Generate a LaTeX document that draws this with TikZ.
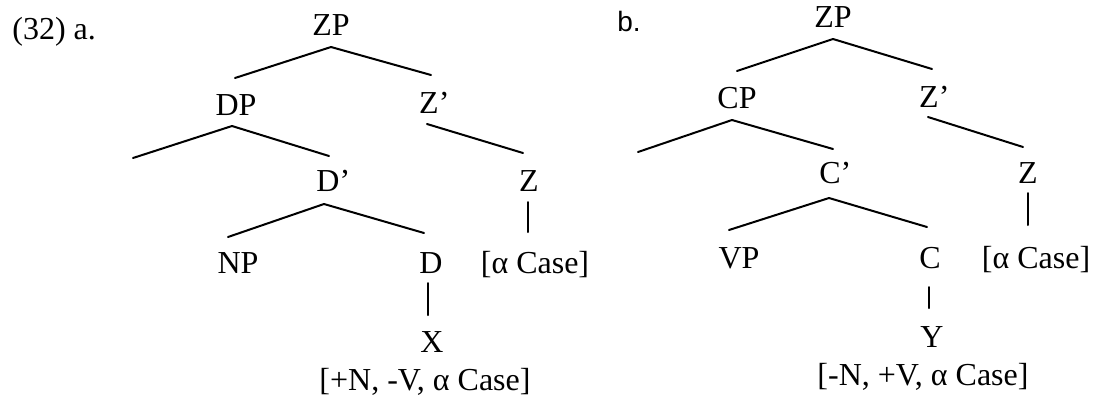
\documentclass[tikz,border=0pt]{standalone}
\usepackage{fontspec}
\setmainfont{Liberation Serif}
\newfontfamily\labsans{Liberation Sans}
\usetikzlibrary{calc}
\begin{document}
\begin{tikzpicture}[x=0.5pt,y=-0.5pt,
  lab/.style={anchor=base,inner sep=0pt,font=\fontsize{16}{19}\selectfont},
  exlab/.style={anchor=base west,inner sep=0pt},
  branch/.style={line width=1pt,line cap=round}]
\useasboundingbox (0,0) rectangle (1102,397);

% ---------- tree a ----------
\node[exlab,font=\fontsize{16}{19}\selectfont] (exa) at (12,39) {(32) a.};
\node[lab] (ZPa) at (331,35) {ZP};
\node[lab] (DPa) at (236,115) {DP};
\node[lab] (Zba) at (429,113) {Z\rlap{’}};
\node[lab] (Dba) at (328,191) {D\rlap{’}};
\node[lab] (Za) at (529,191) {Z};
\node[lab] (NPa) at (238,273) {NP};
\node[lab] (Da) at (431,273) {D};
\node[lab] (Casea) at (535,273) {[α Case]};
\node[lab] (Xa) at (432,352) {X};
\node[lab] (Feata) at (425,390) {[+N, -V, α Case]};
\coordinate (DPleaf) at (133,158);

\draw[branch] ($(ZPa.base)+(0,12)$) -- ($(DPa.base)+(-1,-37)$);
\draw[branch] ($(ZPa.base)+(0,12)$) -- ($(Zba.base)+(2,-38)$);
\draw[branch] ($(DPa.base)+(-4,11)$) -- (DPleaf);
\draw[branch] ($(DPa.base)+(-4,11)$) -- ($(Dba.base)+(1,-35)$);
\draw[branch] ($(Zba.base)+(-2,11)$) -- ($(Za.base)+(-6,-38)$);
\draw[branch] ($(Dba.base)+(-4,13)$) -- ($(NPa.base)+(-10,-36)$);
\draw[branch] ($(Dba.base)+(-4,13)$) -- ($(Da.base)+(-7,-40)$);
\draw[branch] ($(Za.base)+(-1,11)$) -- ($(Za.base |- Casea.base)+(-1,-41)$);
\draw[branch] ($(Da.base)+(-3,10)$) -- ($(Xa.base)+(-4,-37)$);

% ---------- tree b ----------
\node[exlab,font=\labsans\fontsize{14}{17}\selectfont] (exb) at (617,31) {b.};
\node[lab] (ZPb) at (833,27) {ZP};
\node[lab] (CPb) at (737,108) {CP};
\node[lab] (Zbb) at (929,107) {Z\rlap{’}};
\node[lab] (Cbb) at (830,183) {C\rlap{’}};
\node[lab] (Zb) at (1028,183) {Z};
\node[lab] (VPb) at (739,268) {VP};
\node[lab] (Cb) at (930,268) {C};
\node[lab] (Caseb) at (1036,268) {[α Case]};
\node[lab] (Yb) at (932,347) {Y};
\node[lab] (Featb) at (923,385) {[-N, +V, α Case]};
\coordinate (CPleaf) at (638,152);

\draw[branch] ($(ZPb.base)+(0,12)$) -- ($(CPb.base)+(0,-37)$);
\draw[branch] ($(ZPb.base)+(0,12)$) -- ($(Zbb.base)+(3,-38)$);
\draw[branch] ($(CPb.base)+(-5,12)$) -- (CPleaf);
\draw[branch] ($(CPb.base)+(-5,12)$) -- ($(Cbb.base)+(3,-34)$);
\draw[branch] ($(Zbb.base)+(-1,10)$) -- ($(Zb.base)+(-5,-36)$);
\draw[branch] ($(Cbb.base)+(-1,15)$) -- ($(VPb.base)+(-10,-38)$);
\draw[branch] ($(Cbb.base)+(-1,15)$) -- ($(Cb.base)+(-3,-41)$);
\draw[branch] ($(Zb.base)+(0,10)$) -- ($(Zb.base |- Caseb.base)+(0,-43)$);
\draw[branch] ($(Cb.base)+(-1,19)$) -- ($(Yb.base)+(-3,-39)$);
\end{tikzpicture}
\end{document}
